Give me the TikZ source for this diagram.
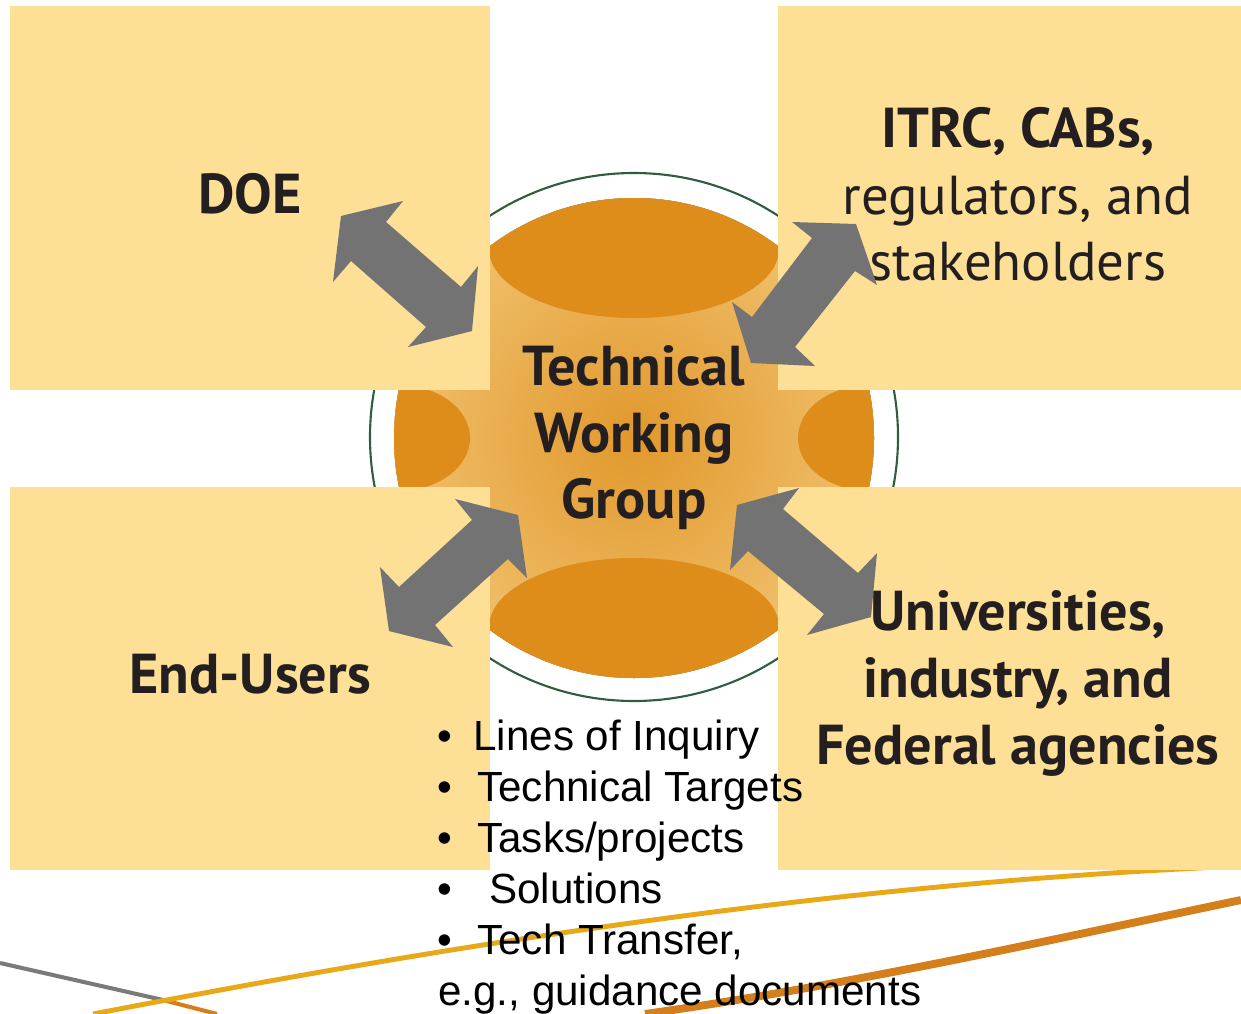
\documentclass[tikz,border=0pt]{standalone}
\usepackage{fontspec}
\usepackage{xcolor}
\usepackage{tikz}
\usetikzlibrary{positioning, calc, shapes}

\newfontfamily\boxfont{PT Sans}
\newfontfamily\listfont{Liberation Sans}

\definecolor{boxfill}{HTML}{FDDF95}
\definecolor{lensfill}{HTML}{DE8C1A}
\definecolor{ringline}{HTML}{2F5E3C}
\definecolor{arrowgray}{HTML}{737373}
\definecolor{twgcore}{HTML}{E1982C}
\definecolor{twgrim}{HTML}{F8D48C}
\definecolor{inktext}{HTML}{231F20}
\definecolor{swoopgray}{HTML}{7A7A7A}
\definecolor{swoopgold}{HTML}{E8A818}
\definecolor{swooporange}{HTML}{D47E1C}

\pgfdeclareradialshading{twgshade}{\pgfpoint{0bp}{0bp}}{color(0bp)=(twgcore); color(38bp)=(twgrim); color(50bp)=(twgrim)}

\tikzset{
	quadbox/.style={fill=boxfill, draw=none, inner sep=0, minimum height=7.68cm},
	headline/.style={font=\boxfont\bfseries\fontsize{32}{38}\selectfont, text=inktext, anchor=base, inner sep=0},
	plainline/.style={font=\boxfont\fontsize{31.2}{38}\selectfont, text=inktext, anchor=base, inner sep=0},
	listitem/.style={font=\listfont\fontsize{24}{28}\selectfont, anchor=base west, inner sep=0},
	blockarrow/.style={fill=arrowgray, draw=none},
}

\begin{document}
\begin{tikzpicture}[x=0.02cm, y=-0.02cm]
	
	%//page is 1241 x 1014
	\clip (0,0) rectangle (1241,1014);
	\fill[white] (0,0) rectangle (1241,1014);
	
	%//swooshes at the bottom
	\draw[swoopgray, line width=2.3pt] (0,963) -- (163,1000);
	\draw[swooporange, line width=2.3pt] (163,1000) -- (217,1014);
	\draw[swoopgold, line width=2.8pt] (93,1014) .. controls (400,955) and (800,885) .. (1241,866);
	\draw[swooporange, line width=4.5pt] (645,1014) .. controls (850,985) and (1050,940) .. (1241,900);
	
	%//ring, glow and lenses
	\draw[ringline, line width=1.2pt] (634,437) circle (264);
	\fill[shading=twgshade] (634,438) circle (240);
	\begin{scope}
		\clip (634,438) circle (240);
		\fill[lensfill] (634,249) ellipse (145 and 69);
		\fill[lensfill] (634,627) ellipse (145 and 69);
		\fill[lensfill] (398,438) ellipse (72 and 53);
		\fill[lensfill] (870,438) ellipse (72 and 53);
	\end{scope}
	
	%//four boxes
	\node[quadbox, minimum width=9.6cm] (doebox) at (250,198) {};
	\node[quadbox, minimum width=9.26cm] (itrcbox) at (1009.5,198) {};
	\node[quadbox, minimum width=9.6cm, minimum height=7.66cm] (userbox) at (250,678.5) {};
	\node[quadbox, minimum width=9.26cm, minimum height=7.66cm] (univbox) at (1009.5,678.5) {};
	
	\node[headline] (doe) at (250,213) {DOE};
	
	\node[headline] (itrc-1) at (1018,147) {ITRC, CABs,};
	\node[plainline] (itrc-2) at (1018,214) {regulators, and};
	\node[plainline] (itrc-3) at (1018,280) {stakeholders};
	
	\foreach \n/\y/\val in {1/385/Technical, 2/452/Working, 3/518/Group}
	\node[headline] (twg-\n) at (634,\y) {\val};
	
	\node[headline] (users) at (250,693) {End-Users};
	
	\foreach \n/\y/\val in {1/630/{Universities,}, 2/697/{industry, and}, 3/764/Federal agencies}
	\node[headline] (univ-\n) at (1018,\y) {\val};
	
	%//bullet list
	\foreach \n/\y/\xx/\val in {1/750/473/Lines of Inquiry, 2/801/477/Technical Targets, 3/852/477/{Tasks/projects}, 4/903/489/Solutions, 5/954/477/{Tech Transfer,}}
	{
		\node[listitem] (dot-\n) at (437,\y) {\textbullet};
		\node[listitem] (item-\n) at (\xx,\y) {\val};
	}
	\node[listitem] (item-6) at (438,1005) {e.g., guidance documents};
	
	%//double arrows
	\fill[blockarrow] (341,216) -- (403,201) -- (386,222) -- (461,287) -- (478,266) -- (472,331) -- (408,347) -- (426,327) -- (351,261) -- (333,282) -- cycle;
	\fill[blockarrow] (856,224) -- (877,285) -- (855,271) -- (795,347) -- (815,366) -- (751,363) -- (732,302) -- (752,317) -- (812,238) -- (792,222) -- cycle;
	\fill[blockarrow] (518,515) -- (527,578) -- (508,559) -- (435,625) -- (453,647) -- (389,631) -- (380,567) -- (399,587) -- (472,520) -- (455,499) -- cycle;
	\fill[blockarrow] (737,505) -- (799,488) -- (783,509) -- (858,573) -- (877,553) -- (871,617) -- (807,635) -- (824,614) -- (748,551) -- (730,570) -- cycle;
	
\end{tikzpicture}
\end{document}
